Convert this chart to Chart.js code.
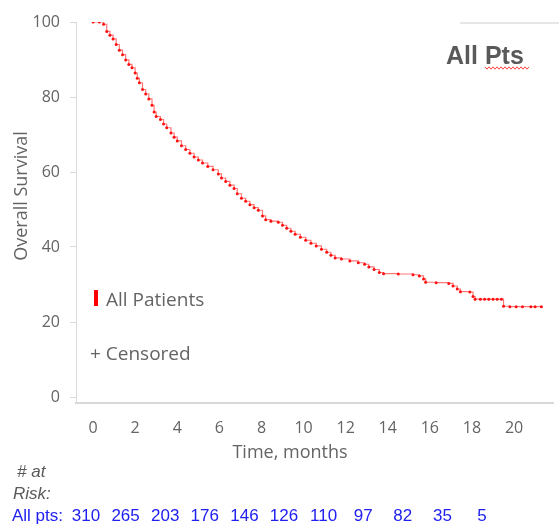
<!DOCTYPE html>
<html>
<head>
<meta charset="utf-8">
<script src="https://cdn.jsdelivr.net/npm/chart.js@4"></script>
<style>
  html, body { margin: 0; padding: 0; background: #fff; }
  #wrap { width: 559px; height: 526px; position: relative; }
</style>
</head>
<body>
<div id="wrap"><canvas id="km"></canvas></div>
<script>
// Kaplan-Meier curve (months, % alive)
const months = [0, 0.3, 0.5, 0.65, 0.8, 0.95, 1.1, 1.25, 1.4, 1.55, 1.7, 1.85, 2.0, 2.1, 2.2, 2.35, 2.5, 2.65,
  2.8, 2.9, 3.0, 3.2, 3.35, 3.5, 3.7, 3.85, 4.0, 4.2, 4.4, 4.6, 4.8, 5.0, 5.2, 5.45, 5.7, 5.95, 6.1, 6.3,
  6.5, 6.7, 6.85, 7.05, 7.25, 7.45, 7.65, 7.85, 8.05, 8.2, 8.45, 8.8, 9.0, 9.2, 9.4, 9.6, 9.85, 10.1,
  10.35, 10.6, 10.85, 11.1, 11.3, 11.5, 11.8, 12.2, 12.6, 12.9, 13.1, 13.35, 13.6, 13.8, 14.5, 15.2,
  15.5, 15.7, 15.8, 16.3, 16.9, 17.1, 17.3, 17.45, 17.9, 18.05, 18.15, 18.4, 18.6, 18.8, 19.0, 19.2, 19.4,
  19.5, 19.8, 20.1, 20.4, 20.8, 21.0, 21.3];
const survival = [100, 100, 99.4, 97.5, 96.5, 95.5, 94, 92.5, 91.3, 89.9, 88.7, 87.8, 86.4, 85, 83.8, 82, 80.8, 79.5,
  77.8, 76, 74.8, 74, 72.8, 71.8, 70.4, 69.3, 68.3, 67, 66, 65, 64, 63.2, 62.4, 61.5, 60.6, 59.5, 58.4, 57.5,
  56.5, 55.6, 54.2, 53, 52.2, 51.3, 50.5, 49.8, 48.3, 47.3, 46.9, 46.6, 45.8, 45, 44.2, 43.4, 42.6, 41.8,
  41, 40.3, 39.4, 38.6, 37.8, 37.1, 36.8, 36.3, 35.8, 35.4, 34.7, 34, 33.2, 32.9, 32.8, 32.6,
  32.3, 31.5, 30.6, 30.5, 30.3, 29.6, 28.8, 28.1, 28, 26.8, 26.1, 26.1, 26.1, 26.1, 26.1, 26.1, 26.1,
  24.2, 24.1, 24.1, 24.1, 24.1, 24.1, 24.1];

const xTicks = [0, 2, 4, 6, 8, 10, 12, 14, 16, 18, 20];
const yTicks = [0, 20, 40, 60, 80, 100];
const riskLabel = 'All pts:';
const riskCounts = [310, 265, 203, 176, 146, 126, 110, 97, 82, 35, 5];

const gray = '#646464';
const textFont = '"Open Sans", sans-serif';

const overlay = {
  id: 'overlay',
  afterDraw(chart) {
    const c = chart.ctx;
    c.save();

    // axis titles
    c.fillStyle = gray;
    c.font = '18px ' + textFont;
    c.textAlign = 'center';
    c.textBaseline = 'middle';
    c.fillText('Time, months', 290, 453);
    c.save();
    c.translate(22, 196);
    c.rotate(-Math.PI / 2);
    c.fillText('Overall Survival', 0, 0);
    c.restore();

    // legend
    c.fillStyle = '#ff0000';
    c.fillRect(94, 290, 4, 16);
    c.fillStyle = gray;
    c.textAlign = 'left';
    c.textBaseline = 'alphabetic';
    c.font = '19px ' + textFont;
    c.fillText('All Patients', 106, 306);
    c.fillText('+ Censored', 90, 360);

    // panel label
    c.strokeStyle = '#e6e6e6';
    c.lineWidth = 2;
    c.beginPath();
    c.moveTo(460, 23);
    c.lineTo(559, 23);
    c.stroke();
    c.fillStyle = '#595959';
    c.font = 'bold 25px "Liberation Sans", Arial, sans-serif';
    c.fillText('All Pts', 446, 64);
    c.strokeStyle = '#ff4444';
    c.lineWidth = 1;
    c.beginPath();
    for (let x = 485, i = 0; x <= 530; x += 2, i++) {
      const y = 68 + (i % 2 ? 1.2 : -1.2);
      if (i === 0) c.moveTo(x, y); else c.lineTo(x, y);
    }
    c.stroke();

    // number at risk
    c.fillStyle = '#595959';
    c.font = 'italic 17px "Liberation Sans", Arial, sans-serif';
    c.fillText('# at', 17, 477);
    c.fillText('Risk:', 13, 499);
    c.fillStyle = '#2020f0';
    c.font = '17px "Liberation Sans", Arial, sans-serif';
    c.fillText(riskLabel, 12, 521);
    c.textAlign = 'center';
    riskCounts.forEach((n, i) => c.fillText(String(n), 86 + i * 39.6, 521));

    c.restore();
  }
};

new Chart(document.getElementById('km'), {
  type: 'line',
  data: {
    datasets: [{
      label: 'All Patients',
      data: months.map((m, i) => ({ x: m, y: survival[i] })),
      borderColor: 'rgba(255, 30, 30, 0.6)',
      borderWidth: 1.2,
      stepped: true,
      pointRadius: 1.5,
      pointBorderWidth: 0,
      pointBackgroundColor: '#ff1010',
      fill: false,
    }]
  },
  options: {
    responsive: true,
    maintainAspectRatio: false,
    animation: false,
    layout: { padding: { left: 0, top: 22, right: 6, bottom: 61 } },
    plugins: {
      legend: { display: false },
      tooltip: { enabled: false },
    },
    scales: {
      x: {
        type: 'linear',
        min: -0.81,
        max: 21.85,
        afterBuildTicks: s => { s.ticks = xTicks.map(v => ({ value: v })); },
        afterFit: s => { s.height = 62; },
        grid: { display: false, drawTicks: false },
        border: { color: '#d9d9d9', width: 2 },
        ticks: { color: gray, font: { family: textFont, size: 16 }, padding: 16, maxRotation: 0 },
      },
      y: {
        min: -1.6,
        max: 100,
        afterBuildTicks: s => { s.ticks = yTicks.map(v => ({ value: v })); },
        afterFit: s => { s.width = 76; },
        grid: { drawOnChartArea: false, tickLength: 6, color: '#d9d9d9' },
        border: { color: '#d9d9d9', width: 1 },
        ticks: { color: gray, font: { family: textFont, size: 16 }, padding: 10 },
      }
    }
  },
  plugins: [overlay]
});
</script>
</body>
</html>
